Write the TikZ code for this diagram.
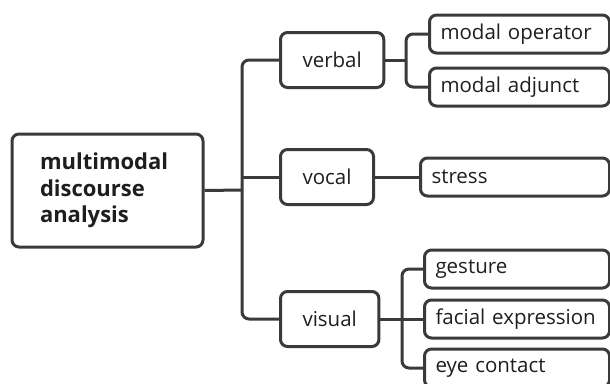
\documentclass[tikz,border=0pt]{standalone}
\usepackage{fontspec}
\setmainfont{Open Sans}
\definecolor{lineGray}{HTML}{3A3A3A}
\definecolor{textGray}{HTML}{1E1E1E}

\begin{document}
\begin{tikzpicture}
[x=1pt,y=-1pt,
  rootDecorate/.style={shape=rectangle,rounded corners=7pt,draw=lineGray,line width=3pt,
    text=textGray,font=\fontsize{22}{26.5}\selectfont\bfseries,align=left,
    text width=135pt,inner xsep=28pt,minimum height=113pt},
  branchDecorate/.style={shape=rectangle,rounded corners=7pt,draw=lineGray,line width=3pt,
    text=textGray,font=\fontsize{20.5}{24}\selectfont,inner xsep=22pt,minimum height=55pt,anchor=west},
  leafDecorate/.style={shape=rectangle,rounded corners=7pt,draw=lineGray,line width=3pt,
    text=textGray,font=\fontsize{20.5}{24}\selectfont,align=left,inner xsep=11pt,
    minimum height=38pt,anchor=west},
  lineDecorate/.style={-,draw=lineGray,line width=3pt,rounded corners=7pt},
  elbowDecorate/.style={to path={|- (\tikztotarget)}}]
\clip (0,0) rectangle (610,383);
%% nodes
\node (root) at (107.5,190.5) [rootDecorate] {multimodal\\discourse\\analysis};
\foreach \nodename/\y in {verbal/60, vocal/177, visual/319}
{
  \node (\nodename) at (279,\y) [branchDecorate] {\nodename};
}
\foreach \nodename/\x/\y/\txt in {
  modop/428/34/modal operator, modadj/428/87/modal adjunct, stress/419/177/stress,
  gesture/423/269/gesture, facial/423/319/facial expression, eye/423/368/eye contact}
{
  \pgfmathsetmacro\tw{586-\x}
  \node (\nodename) at (\x,\y) [leafDecorate,text width=\tw pt] {\txt};
}
\coordinate (hub) at (242,190);
\coordinate (verbalFork) at (406,60);
\coordinate (visualFork) at (402,319);
%% edges
\draw[lineDecorate] (root.east) -- (hub);
\draw[lineDecorate] (hub |- vocal.west) -- (vocal.west);
\path
\foreach \startnode/\endnode in {
  hub/verbal, hub/visual, verbalFork/modop, verbalFork/modadj,
  visualFork/gesture, visualFork/eye}
{
  (\startnode) edge[lineDecorate,elbowDecorate] (\endnode)
};
\path
\foreach \startnode/\endnode in {
  verbal/verbalFork, visual/visualFork, visualFork/facial, vocal/stress}
{
  (\startnode) edge[lineDecorate] (\endnode)
};
\end{tikzpicture}
\end{document}
